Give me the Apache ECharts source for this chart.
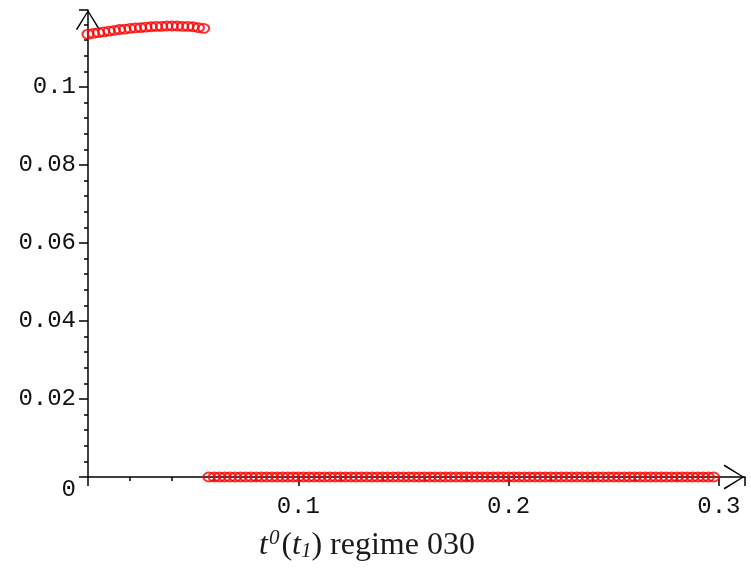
<!DOCTYPE html>
<html>
<head>
<meta charset="utf-8">
<script src="https://cdn.jsdelivr.net/npm/echarts@6/dist/echarts.min.js"></script>
<style>html,body{margin:0;padding:0;background:#fff;}#c{width:751px;height:573px;}</style>
</head>
<body>
<div id="c"></div>
<script>
var xUpper = [0,0.0025,0.005,0.0075,0.01,0.0125,0.015,0.0175,0.02,0.0225,0.025,0.0275,0.03,0.0325,0.035,0.0375,0.04,0.0425,0.045,0.0475,0.05,0.0525,0.055];
var yUpper = [0.1135,0.1137,0.1139,0.1141,0.1143,0.1145,0.1147,0.1148,0.1150,0.1151,0.1152,0.1153,0.1154,0.1155,0.1155,0.1156,0.1156,0.1156,0.1155,0.1155,0.1154,0.1152,0.1150];
var xLower = [0.0575,0.06,0.0625,0.065,0.0675,0.07,0.0725,0.075,0.0775,0.08,
  0.0825,0.085,0.0875,0.09,0.0925,0.095,0.0975,0.1,0.1025,0.105,
  0.1075,0.11,0.1125,0.115,0.1175,0.12,0.1225,0.125,0.1275,0.13,
  0.1325,0.135,0.1375,0.14,0.1425,0.145,0.1475,0.15,0.1525,0.155,
  0.1575,0.16,0.1625,0.165,0.1675,0.17,0.1725,0.175,0.1775,0.18,
  0.1825,0.185,0.1875,0.19,0.1925,0.195,0.1975,0.2,0.2025,0.205,
  0.2075,0.21,0.2125,0.215,0.2175,0.22,0.2225,0.225,0.2275,0.23,
  0.2325,0.235,0.2375,0.24,0.2425,0.245,0.2475,0.25,0.2525,0.255,
  0.2575,0.26,0.2625,0.265,0.2675,0.27,0.2725,0.275,0.2775,0.28,
  0.2825,0.285,0.2875,0.29,0.2925,0.295,0.2975];
var yLower = [0,0,0,0,0,0,0,0,0,0,
  0,0,0,0,0,0,0,0,0,0,
  0,0,0,0,0,0,0,0,0,0,
  0,0,0,0,0,0,0,0,0,0,
  0,0,0,0,0,0,0,0,0,0,
  0,0,0,0,0,0,0,0,0,0,
  0,0,0,0,0,0,0,0,0,0,
  0,0,0,0,0,0,0,0,0,0,
  0,0,0,0,0,0,0,0,0,0,
  0,0,0,0,0,0,0];
var xTickLabels = ['0.1','0.2','0.3'];
var yTickLabels = ['0','0.02','0.04','0.06','0.08','0.1'];

function zip(a, b) { return a.map(function (v, i) { return [v, b[i]]; }); }

var chevronV = 'path://M12,0 L24,19 L22.6,19.8 L12,2.2 L1.4,19.8 L0,19 Z';
var labelFont = { fontFamily: 'Liberation Mono', fontSize: 24, color: '#111' };
var markerStyle = { color: 'rgba(0,0,0,0)', borderColor: '#ff0000', borderWidth: 2 };
var serif = 'Liberation Serif';

var chart = echarts.init(document.getElementById('c'), null, { renderer: 'canvas' });
chart.setOption({
  animation: false,
  backgroundColor: '#fff',
  title: {
    text: '{i|t}{sup|0}{n|(}{i|t}{sub|1}{n|) regime 030}',
    left: 254, top: 523,
    textStyle: {
      fontWeight: 'normal',
      rich: {
        i: { fontFamily: serif, fontStyle: 'italic', fontWeight: 'normal', fontSize: 32, color: '#1a1a1a' },
        n: { fontFamily: serif, fontWeight: 'normal', fontSize: 32, color: '#1a1a1a' },
        sup: { fontFamily: serif, fontStyle: 'italic', fontWeight: 'normal', fontSize: 21, color: '#1a1a1a', padding: [0, 2, 15, 1] },
        sub: { fontFamily: serif, fontStyle: 'italic', fontWeight: 'normal', fontSize: 21, color: '#1a1a1a', padding: [11, 0, 0, 0] }
      }
    }
  },
  grid: { left: 88, top: 10, right: 6, bottom: 96, containLabel: false },
  xAxis: {
    type: 'value', min: 0, max: 0.3124, interval: 0.1,
    axisLine: { show: true, onZero: false, lineStyle: { color: '#000', width: 1.5 },
      symbol: ['none', chevronV], symbolSize: [25, 22], symbolOffset: [0, -11] },
    axisTick: { show: true, length: 9, lineStyle: { color: '#000', width: 1.5 } },
    minorTick: { show: true, splitNumber: 5, length: 4, lineStyle: { color: '#000', width: 1.5 } },
    splitLine: { show: false },
    axisLabel: Object.assign({ margin: 18, showMinLabel: false, showMaxLabel: false,
      formatter: function (v) {
        var s = String(Math.round(v * 10) / 10);
        return xTickLabels.indexOf(s) >= 0 ? s : '';
      } }, labelFont)
  },
  yAxis: {
    type: 'value', min: 0, max: 0.1197, interval: 0.02,
    axisLine: { show: true, onZero: false, lineStyle: { color: '#000', width: 1.5 },
      symbol: ['none', chevronV], symbolSize: [25, 20], symbolOffset: [0, -10] },
    axisTick: { show: true, length: 9, lineStyle: { color: '#000', width: 1.5 } },
    minorTick: { show: true, splitNumber: 5, length: 4, lineStyle: { color: '#000', width: 1.5 } },
    splitLine: { show: false },
    axisLabel: Object.assign({ margin: 12, showMaxLabel: false,
      formatter: function (v) {
        var s = String(Math.round(v * 100) / 100);
        if (s === '0') return '{z|0}';
        return yTickLabels.indexOf(s) >= 0 ? s : '';
      },
      rich: { z: { fontFamily: 'Liberation Mono', fontSize: 24, color: '#111', padding: [26, 0, 0, 0] } }
    }, labelFont)
  },
  series: [
    { type: 'scatter', data: zip(xUpper, yUpper), symbol: 'circle', symbolSize: [11, 9], itemStyle: markerStyle, z: 1 },
    { type: 'scatter', data: zip(xLower, yLower), symbol: 'circle', symbolSize: [11, 9], itemStyle: markerStyle, z: 1 }
  ]
});
</script>
</body>
</html>
